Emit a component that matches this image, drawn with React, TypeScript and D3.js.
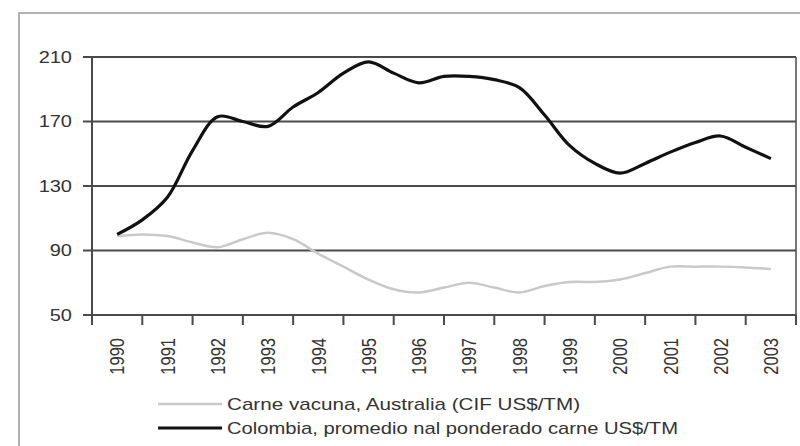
import React from "react";
import * as d3 from "d3";

const periods = [1990, 1990.5, 1991, 1991.5, 1992, 1992.5, 1993, 1993.5, 1994, 1994.5, 1995, 1995.5, 1996, 1996.5, 1997, 1997.5, 1998, 1998.5, 1999, 1999.5, 2000, 2000.5, 2001, 2001.5, 2002, 2002.5, 2003];
const colombia = [100, 109, 123, 152, 173, 170, 167, 179, 188, 200, 207, 200, 194, 198, 198, 196, 191, 174, 155, 144, 138, 144, 151, 157, 161, 154, 147];
const australia = [99, 100, 99, 95, 92, 97, 101, 97, 88, 80, 72, 66, 64, 67, 70, 67, 64, 68, 70.5, 70.5, 72, 76, 80, 80, 80, 79.5, 78.5];
const years = [1990, 1991, 1992, 1993, 1994, 1995, 1996, 1997, 1998, 1999, 2000, 2001, 2002, 2003];
const yTicks = [50, 90, 130, 170, 210];
const legendLabels = ["Carne vacuna, Australia (CIF US$/TM)", "Colombia, promedio nal ponderado carne US$/TM"];

export default function App() {
  const left = 92, right = 796, top = 57, bottom = 315;
  const x = d3.scaleLinear().domain([1989.5, 2003.5]).range([left, right]);
  const y = d3.scaleLinear().domain([50, 210]).range([bottom, top]);
  const line = d3
    .line<number>()
    .x((_, i) => x(periods[i]))
    .y((d) => y(d))
    .curve(d3.curveCatmullRom.alpha(0.5));
  const boundaries = years.map((yr) => yr - 0.5).concat([2003.5]);
  const font = "'Liberation Sans', Arial, sans-serif";
  const txt = "#333";
  const grid = "#4a4a4a";

  return (
    <svg width={800} height={446} style={{ position: "absolute", left: 0, top: 0, background: "#fff" }}>
      <rect x={19} y={13} width={800} height={460} fill="#fff" stroke="#999" strokeWidth={1.5} />
      {/* gridlines */}
      {yTicks.filter((t) => t > 50).map((t) => (
        <line key={t} x1={left} x2={right} y1={y(t)} y2={y(t)} stroke={grid} strokeWidth={2} />
      ))}
      {/* right border */}
      <line x1={right} x2={right} y1={top} y2={bottom} stroke={grid} strokeWidth={1.5} />
      {/* y axis */}
      <line x1={left} x2={left} y1={top} y2={bottom} stroke={grid} strokeWidth={2} />
      {yTicks.map((t) => (
        <g key={t}>
          <line x1={left - 9} x2={left} y1={y(t)} y2={y(t)} stroke={grid} strokeWidth={2} />
          <text
            transform={`translate(72,${y(t)}) scale(1.25,1)`}
            textAnchor="end"
            dy="0.35em"
            fontFamily={font}
            fontSize={16}
            fill={txt}
          >
            {t}
          </text>
        </g>
      ))}
      {/* x axis */}
      <line x1={left} x2={right} y1={bottom} y2={bottom} stroke={grid} strokeWidth={2.2} />
      {boundaries.map((b) => (
        <line key={b} x1={x(b)} x2={x(b)} y1={bottom} y2={bottom + 10} stroke={grid} strokeWidth={2} />
      ))}
      {years.map((yr) => (
        <text
          key={yr}
          transform={`translate(${x(yr)},338) rotate(-90) scale(1,1.25)`}
          textAnchor="end"
          dy="0.35em"
          fontFamily={font}
          fontSize={16.5}
          fill={txt}
        >
          {yr}
        </text>
      ))}
      {/* series */}
      <path d={line(australia) || ""} fill="none" stroke="#c9c9c9" strokeWidth={2.5} />
      <path d={line(colombia) || ""} fill="none" stroke="#111" strokeWidth={3.2} />
      {/* legend */}
      <line x1={158} x2={222} y1={404} y2={404} stroke="#c9c9c9" strokeWidth={2.5} />
      <line x1={158} x2={222} y1={428} y2={428} stroke="#111" strokeWidth={3.2} />
      <text x={227} y={410} fontFamily={font} fontSize={17} fill={txt} textLength={353} lengthAdjust="spacingAndGlyphs">
        {legendLabels[0]}
      </text>
      <text x={227} y={434} fontFamily={font} fontSize={17} fill={txt} textLength={451} lengthAdjust="spacingAndGlyphs">
        {legendLabels[1]}
      </text>
    </svg>
  );
}
